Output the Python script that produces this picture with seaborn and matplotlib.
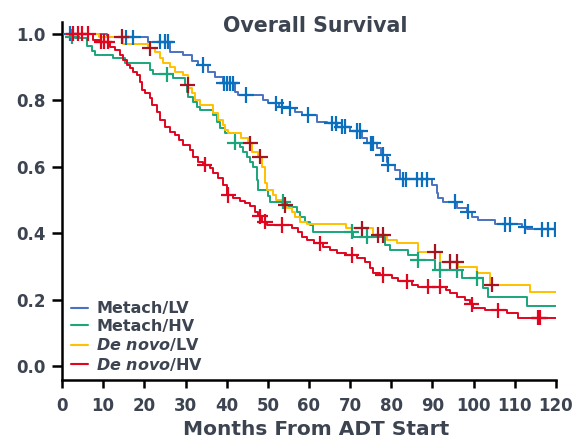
import numpy as np
import pandas as pd
import matplotlib
matplotlib.use("Agg")
import matplotlib.pyplot as plt
import seaborn as sns

# ---------------- data ----------------
groups = ["Metach/LV", "Metach/HV", r"$\mathit{De\ novo}$/LV", r"$\mathit{De\ novo}$/HV"]

metach_lv_t = [0, 10.9, 21, 26.2, 29.5, 31.5, 33.1, 35.5, 37.2, 39.2,
               42, 42.8, 48.9, 50.1, 52.8, 55, 56.6, 58.2, 61.9, 64.3,
               66.7, 70, 72.8, 74, 76.4, 77.6, 78.9, 79.3, 80.9, 82.1,
               89.8, 91, 91.4, 92.6, 95.9, 98.3, 99.5, 101.1, 105.2, 111.7,
               112.9, 120]
metach_lv_s = [1.0, 0.988, 0.975, 0.945, 0.935, 0.917, 0.905, 0.885, 0.87, 0.85,
               0.825, 0.815, 0.80, 0.79, 0.78, 0.775, 0.765, 0.755, 0.735, 0.73,
               0.72, 0.707, 0.685, 0.67, 0.655, 0.635, 0.614, 0.605, 0.59, 0.562,
               0.544, 0.52, 0.505, 0.494, 0.475, 0.464, 0.449, 0.439, 0.426, 0.419,
               0.411, 0.411]
metach_lv_cens = [2, 15.5, 17.3, 23.8, 25, 25.7, 34.3, 39.3, 40, 40.8, 41.5, 44.8,
                  52, 53.5, 55.5, 59.8, 65.5, 66.5, 68, 68.7, 71.6, 72.4, 75, 75.6,
                  78, 79.3, 82.8, 83.6, 86.2, 87.4, 88.7, 95.5, 98.6, 107.6, 108.8,
                  112.5, 116.5, 118.1, 119.7]

metach_hv_t = [0, 1.9, 3.2, 6, 7.2, 8, 12.5, 15.3, 21.4, 22.2,
               27, 29.9, 30.3, 30.7, 31.9, 32.7, 33.5, 36.8, 37.6, 38.4,
               39.6, 42, 43.2, 44, 44.9, 45.7, 46.5, 47.3, 47.6, 50.1,
               50.5, 54.6, 57, 57.8, 59, 60.2, 61, 70.8, 78.5, 79.7,
               84.1, 86.5, 90.6, 97.1, 102.3, 103.5, 112.9, 120]
metach_hv_s = [1.0, 0.99, 0.985, 0.963, 0.947, 0.935, 0.925, 0.91, 0.89, 0.877,
               0.865, 0.845, 0.825, 0.81, 0.795, 0.78, 0.77, 0.755, 0.735, 0.715,
               0.70, 0.672, 0.66, 0.645, 0.63, 0.615, 0.60, 0.56, 0.53, 0.51,
               0.494, 0.479, 0.464, 0.449, 0.434, 0.424, 0.404, 0.389, 0.364, 0.349,
               0.334, 0.319, 0.289, 0.264, 0.234, 0.208, 0.18, 0.18]
metach_hv_cens = [2.5, 25.4, 42, 53.8, 70.4, 74, 86.5, 91.8, 95.9, 100.7]

denovo_lv_t = [0, 9, 14.9, 21, 22.5, 23.8, 24.6, 26.2, 27.4, 29.5,
               30.5, 30.7, 31.5, 32.3, 33.5, 36.8, 38, 39.2, 39.6, 40.4,
               43.6, 45.3, 46.1, 47.7, 48.5, 49.3, 49.8, 51.3, 52.1, 53.4,
               54.6, 55.8, 56.6, 57.8, 59.4, 69.1, 75.6, 78.9, 81.3, 86.5,
               91.8, 96.3, 100.7, 104, 113.7, 120]
denovo_lv_s = [1.0, 0.99, 0.967, 0.955, 0.945, 0.925, 0.91, 0.90, 0.885, 0.875,
               0.845, 0.835, 0.82, 0.80, 0.785, 0.76, 0.74, 0.725, 0.71, 0.70,
               0.685, 0.67, 0.645, 0.63, 0.60, 0.55, 0.53, 0.514, 0.50, 0.484,
               0.474, 0.464, 0.449, 0.434, 0.426, 0.414, 0.394, 0.379, 0.369, 0.344,
               0.314, 0.299, 0.279, 0.244, 0.222, 0.222]
denovo_lv_cens = [14.5, 21.4, 30.5, 45.7, 48.1, 54.2, 72.8, 76.8, 78, 90.6, 94.2, 95.9, 104.4]

denovo_hv_t = [0, 7.6, 9.2, 11.7, 12.9, 14.1, 14.9, 15.7, 16.5, 17.3,
               18.1, 18.9, 19.4, 20.2, 21.4, 21.8, 23, 23.8, 25, 26.2,
               27.4, 28.3, 29.5, 31.1, 31.9, 33.1, 34.3, 35.9, 36.8, 38,
               39.2, 40, 41.6, 43.2, 44.5, 45.7, 46.9, 47.7, 48.5, 49.7,
               55.8, 57.4, 58.2, 59.4, 61.3, 63.5, 65.1, 66.7, 69.1, 71.6,
               73.6, 74.8, 75.6, 77.2, 80.1, 81.7, 84.9, 86.5, 93.4, 94.2,
               95.9, 97.9, 99.1, 99.9, 102.7, 108, 110.8, 120]
denovo_hv_s = [1.0, 0.98, 0.975, 0.96, 0.95, 0.935, 0.92, 0.905, 0.895, 0.885,
               0.875, 0.855, 0.83, 0.82, 0.805, 0.785, 0.765, 0.74, 0.72, 0.705,
               0.695, 0.68, 0.665, 0.65, 0.63, 0.614, 0.605, 0.595, 0.58, 0.565,
               0.544, 0.514, 0.504, 0.497, 0.489, 0.48, 0.464, 0.45, 0.434, 0.424,
               0.414, 0.404, 0.389, 0.379, 0.369, 0.359, 0.349, 0.339, 0.334, 0.324,
               0.314, 0.294, 0.279, 0.274, 0.264, 0.255, 0.244, 0.239, 0.229, 0.219,
               0.208, 0.199, 0.185, 0.173, 0.168, 0.158, 0.145, 0.145]
denovo_hv_cens = [2.7, 4, 4.8, 6.4, 9.5, 10.2, 11.1, 34.7, 40.4, 48.1, 49.3, 53.4,
                  62.7, 70.4, 78, 83.7, 89, 91.8, 99.5, 106, 115.7, 116.1]

x_ticks = [0, 10, 20, 30, 40, 50, 60, 70, 80, 90, 100, 110, 120]
y_ticks = [0.0, 0.2, 0.4, 0.6, 0.8, 1.0]

line_colors = ["#4A72C2", "#1BA57A", "#FFC000", "#E0061F"]
mark_colors = ["#0A6FBF", "#1BA57A", "#A8141E", "#E0061F"]
text_color = "#3D4451"

# ---------------- build tables ----------------
curves = [(metach_lv_t, metach_lv_s, metach_lv_cens),
          (metach_hv_t, metach_hv_s, metach_hv_cens),
          (denovo_lv_t, denovo_lv_s, denovo_lv_cens),
          (denovo_hv_t, denovo_hv_s, denovo_hv_cens)]

line_rows, cens_rows = [], []
for g, (t, s, c) in zip(groups, curves):
    t = np.asarray(t, float)
    s = np.asarray(s, float)
    for ti, si in zip(t, s):
        line_rows.append((g, ti, si))
    for ci in c:
        idx = np.searchsorted(t, ci, side="right") - 1
        cens_rows.append((g, ci, s[idx]))
lines_df = pd.DataFrame(line_rows, columns=["group", "month", "surv"])
cens_df = pd.DataFrame(cens_rows, columns=["group", "month", "surv"])

# ---------------- plot ----------------
sns.set_style("ticks")
plt.rcParams["font.family"] = ["DejaVu Sans"]
plt.rcParams["mathtext.fontset"] = "custom"
plt.rcParams["mathtext.it"] = "DejaVu Sans:bold:italic"
plt.rcParams["mathtext.rm"] = "DejaVu Sans:bold"

fig = plt.figure(figsize=(5.79, 4.44), dpi=100)
ax = fig.add_axes([62 / 579, 1 - 380 / 444, 494 / 579, 358 / 444])

sns.lineplot(data=lines_df, x="month", y="surv", hue="group", hue_order=groups,
             palette=dict(zip(groups, line_colors)), estimator=None, sort=False,
             drawstyle="steps-post", linewidth=1.4, ax=ax)
sns.scatterplot(data=cens_df, x="month", y="surv", hue="group", hue_order=groups,
                palette=dict(zip(groups, mark_colors)), marker="+", s=120,
                linewidth=1.6, legend=False, ax=ax, zorder=3)

ax.set_xlim(0, 120)
ax.set_ylim(-0.0421, 1.0346)
ax.set_xticks(x_ticks)
ax.set_xticklabels([str(v) for v in x_ticks])
ax.set_yticks(y_ticks)
ax.set_yticklabels([f"{v:.1f}" for v in y_ticks])
for lab in ax.get_xticklabels() + ax.get_yticklabels():
    lab.set_fontweight("bold")
    lab.set_fontsize(12)
    lab.set_color(text_color)
ax.tick_params(axis="both", width=1.8, color="black")
ax.tick_params(axis="y", length=7, pad=5)
ax.tick_params(axis="x", length=6, pad=6)
for sp in ["left", "bottom"]:
    ax.spines[sp].set_linewidth(1.8)
    ax.spines[sp].set_color("black")
sns.despine(ax=ax)

ax.set_ylabel("")
ax.set_xlabel("Months From ADT Start", fontsize=14.5, fontweight="bold",
              color=text_color, va="top")
ax.xaxis.set_label_coords(0.515, -0.112)

ax.text(0.512, 0.972, "Overall Survival", transform=ax.transAxes, ha="center",
        va="baseline", fontsize=14.8, fontweight="bold", color=text_color)

handles, labels = ax.get_legend_handles_labels()
leg = ax.legend(handles, labels, loc="lower left", bbox_to_anchor=(0.005, 0.003),
                borderaxespad=0, frameon=False, handlelength=1.1, handletextpad=0.5,
                labelspacing=0.15, prop={"size": 11.5, "weight": "bold"})
for txt in leg.get_texts():
    txt.set_color(text_color)
for h in leg.get_lines():
    h.set_linewidth(1.5)

fig.savefig("out.png", dpi=100)
